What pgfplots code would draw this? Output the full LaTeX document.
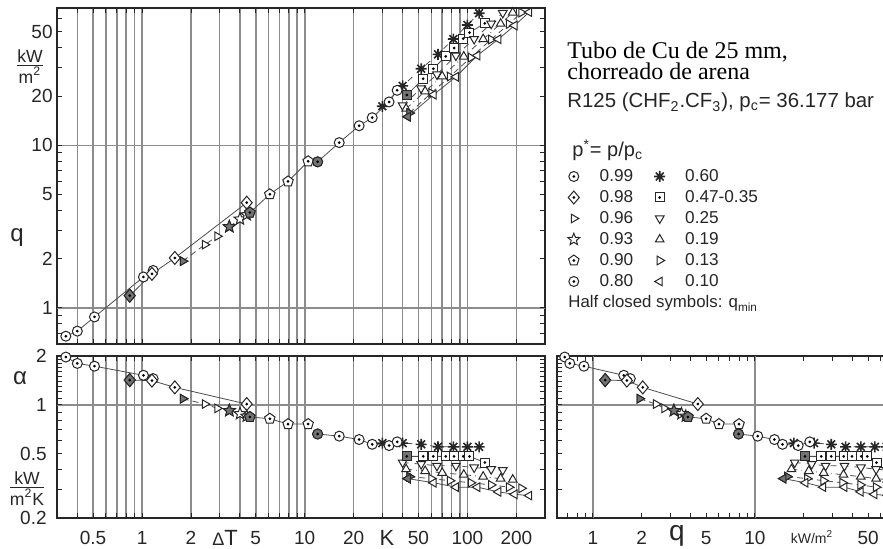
\documentclass[border=0pt]{standalone}
\usepackage{fontspec}
\setmainfont{Liberation Sans}
\newfontfamily\seriffont{Liberation Serif}
\usepackage{pgfplots}
\usepackage{pgfplotstable}
\pgfplotsset{compat=1.18}

% ---------- custom marks ----------
\pgfdeclareplotmark{circdot}{%
  \pgfpathcircle{\pgfpointorigin}{\pgfplotmarksize}\pgfusepathqfillstroke
  \begin{pgfscope}\pgfsetfillcolor{black}%
  \pgfpathcircle{\pgfpointorigin}{0.3\pgfplotmarksize}\pgfusepathqfill\end{pgfscope}}
\pgfdeclareplotmark{diamdot}{%
  \pgfpathmoveto{\pgfpoint{0pt}{1.3\pgfplotmarksize}}%
  \pgfpathlineto{\pgfpoint{1.1\pgfplotmarksize}{0pt}}%
  \pgfpathlineto{\pgfpoint{0pt}{-1.3\pgfplotmarksize}}%
  \pgfpathlineto{\pgfpoint{-1.1\pgfplotmarksize}{0pt}}%
  \pgfpathclose\pgfusepathqfillstroke
  \begin{pgfscope}\pgfsetfillcolor{black}%
  \pgfpathcircle{\pgfpointorigin}{0.3\pgfplotmarksize}\pgfusepathqfill\end{pgfscope}}
\pgfdeclareplotmark{pentdot}{%
  \pgfpathmoveto{\pgfpointpolar{90}{1.1\pgfplotmarksize}}%
  \pgfpathlineto{\pgfpointpolar{162}{1.1\pgfplotmarksize}}%
  \pgfpathlineto{\pgfpointpolar{234}{1.1\pgfplotmarksize}}%
  \pgfpathlineto{\pgfpointpolar{306}{1.1\pgfplotmarksize}}%
  \pgfpathlineto{\pgfpointpolar{18}{1.1\pgfplotmarksize}}%
  \pgfpathclose\pgfusepathqfillstroke
  \begin{pgfscope}\pgfsetfillcolor{black}%
  \pgfpathcircle{\pgfpointorigin}{0.3\pgfplotmarksize}\pgfusepathqfill\end{pgfscope}}
\pgfdeclareplotmark{sqdot}{%
  \pgfpathrectangle{\pgfpoint{-0.9\pgfplotmarksize}{-0.9\pgfplotmarksize}}{\pgfpoint{1.8\pgfplotmarksize}{1.8\pgfplotmarksize}}%
  \pgfusepathqfillstroke
  \begin{pgfscope}\pgfsetfillcolor{black}%
  \pgfpathcircle{\pgfpointorigin}{0.3\pgfplotmarksize}\pgfusepathqfill\end{pgfscope}}
\pgfdeclareplotmark{starout}{%
  \pgfpathmoveto{\pgfpointpolar{90}{1.25\pgfplotmarksize}}%
  \pgfpathlineto{\pgfpointpolar{126}{0.55\pgfplotmarksize}}%
  \pgfpathlineto{\pgfpointpolar{162}{1.25\pgfplotmarksize}}%
  \pgfpathlineto{\pgfpointpolar{198}{0.55\pgfplotmarksize}}%
  \pgfpathlineto{\pgfpointpolar{234}{1.25\pgfplotmarksize}}%
  \pgfpathlineto{\pgfpointpolar{270}{0.55\pgfplotmarksize}}%
  \pgfpathlineto{\pgfpointpolar{306}{1.25\pgfplotmarksize}}%
  \pgfpathlineto{\pgfpointpolar{342}{0.55\pgfplotmarksize}}%
  \pgfpathlineto{\pgfpointpolar{18}{1.25\pgfplotmarksize}}%
  \pgfpathlineto{\pgfpointpolar{54}{0.55\pgfplotmarksize}}%
  \pgfpathclose\pgfusepathqfillstroke}
\pgfdeclareplotmark{ast8}{%
  \pgfpathmoveto{\pgfpointpolar{0}{1.1\pgfplotmarksize}}\pgfpathlineto{\pgfpointpolar{180}{1.1\pgfplotmarksize}}%
  \pgfpathmoveto{\pgfpointpolar{45}{1.1\pgfplotmarksize}}\pgfpathlineto{\pgfpointpolar{225}{1.1\pgfplotmarksize}}%
  \pgfpathmoveto{\pgfpointpolar{90}{1.1\pgfplotmarksize}}\pgfpathlineto{\pgfpointpolar{270}{1.1\pgfplotmarksize}}%
  \pgfpathmoveto{\pgfpointpolar{135}{1.1\pgfplotmarksize}}\pgfpathlineto{\pgfpointpolar{315}{1.1\pgfplotmarksize}}%
  \pgfsetlinewidth{0.8pt}\pgfusepathqstroke}

% ---------- data: dT [K], q [kW/m2], a [kW/m2K] ----------
\pgfplotstableread{
dT q a
0.34 0.67 1.97
0.40 0.72 1.80
0.51 0.88 1.73
1.02 1.55 1.52
1.17 1.70 1.45
}\Tnn
\pgfplotstableread{
dT q a
0.84 1.19 1.42
1.15 1.62 1.41
1.59 2.03 1.28
4.40 4.44 1.01
}\Tne
\pgfplotstableread{
dT q a
1.78 1.94 1.09
2.43 2.45 1.01
2.90 2.76 0.95
}\Tns
\pgfplotstableread{
dT q a
3.44 3.16 0.92
4.00 3.52 0.88
4.40 3.74 0.85
}\Tstar
\pgfplotstableread{
dT q a
4.6 3.86 0.84
6.1 5.00 0.82
7.9 6.00 0.76
10.5 7.98 0.76
}\Tnz
\pgfplotstableread{
dT q a
12.0 7.92 0.66
16.3 10.4 0.64
21.6 13.2 0.61
26.0 14.8 0.57
33.0 18.5 0.56
37.0 21.8 0.59
}\Tez
\pgfplotstableread{
dT q a
30 17.4 0.58
40 23.2 0.58
52 29.6 0.57
66 36.3 0.55
82 45.1 0.55
100 55.0 0.55
118 65.0 0.55
}\Tsz
\pgfplotstableread{
dT q a
42.4 20.4 0.48
53.5 25.7 0.48
61.7 29.6 0.48
73.6 35.3 0.48
82.8 39.7 0.48
94.3 45.3 0.48
103 49.4 0.48
128 56.3 0.44
}\Tsq
\pgfplotstableread{
dT q a
40 17.6 0.44
52 22.4 0.43
65 27.3 0.42
85 35.7 0.42
110 45.1 0.41
140 56.0 0.40
165 65.2 0.395
}\Ttf
\pgfplotstableread{
dT q a
42 16.8 0.40
55 21.5 0.39
70 26.6 0.38
95 35.2 0.37
125 45.0 0.36
160 56.0 0.35
190 65.6 0.345
}\Tnineteen
\pgfplotstableread{
dT q a
44 15.8 0.36
60 21.0 0.35
78 26.5 0.34
105 34.7 0.33
140 44.8 0.32
180 55.8 0.31
215 65.6 0.305
}\Tth
\pgfplotstableread{
dT q a
43 15.0 0.35
62 20.5 0.33
85 26.4 0.31
115 35.7 0.31
155 45.0 0.29
195 54.6 0.28
240 66.0 0.275
}\Tten

\tikzset{mo/.style={solid, draw=black!85, line width=0.5pt}}
\pgfplotsset{
  ser/.style={color=black!70, line width=0.4pt, mark size=2.5pt},
  p99/.style={ser, mark=circdot, mark options={mo, fill=#1}}, p99/.default=white,
  p98/.style={ser, mark=diamdot, mark options={mo, fill=#1}}, p98/.default=white,
  p96/.style={ser, densely dashed, mark=triangle*, mark options={mo, fill=#1, rotate=-90}}, p96/.default=white,
  p93/.style={ser, densely dashed, mark=starout, mark options={mo, fill=#1}}, p93/.default=white,
  p90/.style={ser, mark=pentdot, mark options={mo, fill=#1}}, p90/.default=white,
  p80/.style={ser, mark=circdot, mark options={mo, fill=#1}}, p80/.default=white,
  p60/.style={ser, dashed, mark=ast8, mark options={mo}},
  psq/.style={ser, mark=sqdot, mark options={mo, fill=#1}}, psq/.default=white,
  p25/.style={ser, dashed, mark=triangle*, mark options={mo, fill=#1, rotate=180}}, p25/.default=white,
  p19/.style={ser, dashdotted, mark=triangle*, mark options={mo, fill=#1}}, p19/.default=white,
  p13/.style={ser, densely dashed, mark=triangle*, mark options={mo, fill=#1, rotate=-90}}, p13/.default=white,
  p10/.style={ser, mark=triangle*, mark options={mo, fill=#1, rotate=90}}, p10/.default=white,
  qm/.style={only marks, forget plot, skip coords between index={1}{99}},
  every axis/.append style={
    scale only axis,
    axis line style={line width=0.8pt, black!85},
    tick style={line width=0.5pt, black!85},
    major tick length=2.5pt, minor tick length=2.5pt,
    major grid style={line width=0.8pt, gray!90},
    ticklabel style={font=\fontsize{9.5}{10}\selectfont, text=black!85},
    yticklabel style={inner sep=2pt},
    xticklabel style={yshift=-3pt},
  },
}

\newcommand\allseries[2]{%
  \addplot[p99] table[x=#1,y=#2]{\Tnn};
  \addplot[p60] table[x=#1,y=#2]{\Tsz};
  \addplot[p98] table[x=#1,y=#2]{\Tne};
  \addplot[psq] table[x=#1,y=#2]{\Tsq};
  \addplot[p96] table[x=#1,y=#2]{\Tns};
  \addplot[p25] table[x=#1,y=#2]{\Ttf};
  \addplot[p93] table[x=#1,y=#2]{\Tstar};
  \addplot[p19] table[x=#1,y=#2]{\Tnineteen};
  \addplot[p90] table[x=#1,y=#2]{\Tnz};
  \addplot[p13] table[x=#1,y=#2]{\Tth};
  \addplot[p80] table[x=#1,y=#2]{\Tez};
  \addplot[p10] table[x=#1,y=#2]{\Tten};
  \addplot[p98=black!55, qm] table[x=#1,y=#2]{\Tne};
  \addplot[p96=black!55, qm] table[x=#1,y=#2]{\Tns};
  \addplot[p93=black!55, qm] table[x=#1,y=#2]{\Tstar};
  \addplot[p90=black!55, qm] table[x=#1,y=#2]{\Tnz};
  \addplot[p80=black!55, qm] table[x=#1,y=#2]{\Tez};
  \addplot[psq=black!55, qm] table[x=#1,y=#2]{\Tsq};
  \addplot[p13=black!55, qm] table[x=#1,y=#2]{\Tth};
  \addplot[p10=black!55, qm] table[x=#1,y=#2]{\Tten};
}

\begin{document}
\begin{tikzpicture}
% ---------- top: q vs dT ----------
\begin{loglogaxis}[at={(28.5pt,270.5pt)}, anchor=north west, width=244pt, height=168pt,
  xmin=0.3, xmax=300, ymin=0.6, ymax=70,
  xtick={0.4,0.5,0.6,0.7,0.8,0.9,1,2,3,4,5,6,7,8,9,10,20,30,40,50,60,70,80,90,100,200},
  xticklabels={}, xmajorgrids,
  ytick={1,2,5,10,20,50}, yticklabels={1,2,5,10,20,50},
  minor ytick={0.6,0.7,0.8,0.9,3,4,6,7,8,9,30,40,60,70},
  extra y ticks={1,10}, extra y tick labels={}, extra y tick style={grid=major},
  legend entries={0.99,0.60,0.98,0.47-0.35,0.96,0.25,0.93,0.19,0.90,0.13,0.80,0.10},
  legend columns=2, legend cell align=left,
  legend image code/.code={\draw[#1, only marks] plot coordinates {(0pt,0pt)};},
  legend style={at={(axis description cs:1.046,0.522)}, anchor=north west, draw=none, fill=none,
    inner sep=0pt, font=\fontsize{8.6}{9}\selectfont, text=black!85,
    nodes={inner sep=0.5pt, text height=6pt, text depth=0.5pt}, row sep=3pt,
    /tikz/every odd column/.append style={column sep=9.5pt},
    /tikz/every even column/.append style={column sep=10pt}},
]
\allseries{dT}{q}
\end{loglogaxis}
% ---------- bottom left: alpha vs dT ----------
\begin{loglogaxis}[at={(28.5pt,96.5pt)}, anchor=north west, width=244pt, height=81pt,
  xmin=0.3, xmax=300, ymin=0.2, ymax=2,
  xtick={0.4,0.5,0.6,0.7,0.8,0.9,1,2,3,4,5,6,7,8,9,10,20,30,40,50,60,70,80,90,100,200},
  xticklabels={,0.5,,,,,1,2,,,5,,,,,10,20,,,50,,,,,100,200}, xmajorgrids,
  ytick={0.2,0.5,1,2}, yticklabels={0.2,0.5,1,2},
  minor ytick={0.3,0.4,0.6,0.7,0.8,0.9,1.1,1.2,1.3,1.4,1.5,1.6,1.7,1.8,1.9},
  extra y ticks={1}, extra y tick labels={}, extra y tick style={grid=major},
  yticklabel style={inner sep=5pt},
]
\allseries{dT}{a}
\end{loglogaxis}
% ---------- bottom right: alpha vs q ----------
\begin{loglogaxis}[at={(278.5pt,96.5pt)}, anchor=north west, width=167.4pt, height=81pt,
  xmin=0.6, xmax=70, ymin=0.2, ymax=2,
  xtick={1,2,5,10,50}, xticklabels={1,2,5,10,50},
  minor xtick={0.6,0.7,0.8,0.9,3,4,6,7,8,9,20,30,40,60,70},
  extra x ticks={1,10}, extra x tick labels={}, extra x tick style={grid=major},
  ytick={0.5,1,2}, yticklabels={},
  minor ytick={0.2,0.3,0.4,0.6,0.7,0.8,0.9,1.1,1.2,1.3,1.4,1.5,1.6,1.7,1.8,1.9},
  extra y ticks={1}, extra y tick labels={}, extra y tick style={grid=major},
]
\allseries{q}{a}
\end{loglogaxis}

% ---------- labels ----------
\node[font=\fontsize{12}{12}\selectfont, text=black!85] at (8.5pt,155.5pt) {q};
\node[font=\fontsize{12}{12}\selectfont, text=black!85] at (10pt,85.5pt) {α};
\node[font=\fontsize{8.8}{8.8}\selectfont, text=black!85, inner sep=0pt] at (15pt,240pt)
  {\begin{tabular}{@{}c@{}}kW\\[-1pt]\hline\rule{0pt}{8.5pt}m\textsuperscript{2}\end{tabular}};
\node[font=\fontsize{8.8}{8.8}\selectfont, text=black!85, inner sep=0pt] at (13.5pt,29pt)
  {\begin{tabular}{@{}c@{}}kW\\[-1pt]\hline\rule{0pt}{8.5pt}m\textsuperscript{2}K\end{tabular}};
\node[text=black!85, inner sep=0pt] at (112.5pt,5.5pt)
  {{\fontsize{9}{9}\selectfont Δ}{\fontsize{11}{11}\selectfont T}};
\node[font=\fontsize{11}{11}\selectfont, text=black!85] at (193.5pt,5.5pt) {K};
\node[font=\fontsize{14}{14}\selectfont, text=black!85] at (338.5pt,6.5pt) {q};
\node[font=\fontsize{7}{7}\selectfont, text=black!85] at (406pt,6pt) {kW/m\textsuperscript{2}};

% ---------- text block ----------
\node[anchor=base west, inner sep=0pt, font=\seriffont\fontsize{12}{12}\selectfont] at (283.5pt,245pt) {Tubo de Cu de 25 mm,};
\node[anchor=base west, inner sep=0pt, font=\seriffont\fontsize{12}{12}\selectfont] at (283.5pt,234.5pt) {chorreado de arena};
\node[anchor=base west, inner sep=0pt, font=\fontsize{10.2}{10}\selectfont, text=black!85] at (283.5pt,220.5pt)
  {R125 (CHF\textsubscript{2}.CF\textsubscript{3}), p\textsubscript{c}= 36.177 bar};
\node[anchor=base west, inner sep=0pt, font=\fontsize{10}{10}\selectfont, text=black!85] at (286pt,196pt)
  {p\textsuperscript{*}= p/p\textsubscript{c}};
\node[anchor=base west, inner sep=0pt, font=\fontsize{8.4}{9}\selectfont, text=black!85] at (284pt,120.5pt)
  {Half closed symbols: q\textsubscript{min}};

\pgfresetboundingbox
\path (0pt,0pt) rectangle (441.5pt,274.5pt);
\end{tikzpicture}
\end{document}
